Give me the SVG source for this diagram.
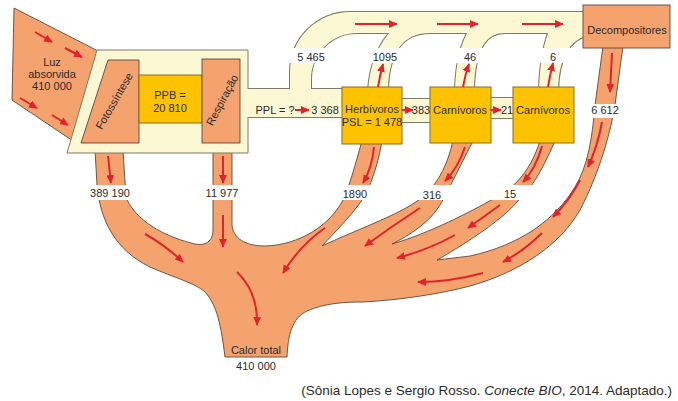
<svg xmlns="http://www.w3.org/2000/svg" width="678" height="401" viewBox="0 0 678 401">
<defs>
<marker id="ah" viewBox="0 0 10 9" refX="9" refY="4.5" markerWidth="4.4" markerHeight="4" orient="auto" markerUnits="strokeWidth">
<path d="M0,0 L10,4.5 L0,9 Z" fill="#e3232b"/>
</marker>
<style>
.t{font-family:"Liberation Sans",Arial,sans-serif;font-size:11px;fill:#2b2b2b;text-anchor:middle}
.heat{fill:#f4a36f;stroke:#5e4837;stroke-width:0.9}
.cr{fill:#fcf8d4;stroke:#7d7a68;stroke-width:2}
.crf{fill:#fcf8d4;stroke:none}
.yb{fill:#fdc300;stroke:#8a6b22;stroke-width:1}
.ar{fill:none;stroke:#e3232b;stroke-width:2;marker-end:url(#ah)}
.band{fill:#ffffff}
</style>
</defs>
<rect width="678" height="401" fill="#ffffff"/>

<g id="connectors">
<g id="luz">
<path class="heat" d="M14,8 L102,53 L76,143 L12,100 Z"/>
</g>
<path id="calor" class="heat" d="M95,150 L97,185 C100,220 115,250 150,267 C175,278 195,283 205,292 C217,305 221,325 225,357 L287,357 C288,335 292,318 307,311 C325,303 345,302 363,302 C400,300 440,294 470,286 C520,272 560,245 580,210 C600,172 611,130 615,105 L623,46 L603,46 L595,105 C592,140 588,165 575,187 C555,220 520,245 470,256 L437,260 C460,247 500,222 517,202 C530,190 540,175 555,141 L540,141 C532,165 520,185 495,198 C470,212 430,233 392,244 C410,235 430,222 440,205 C447,193 458,170 473,141 L453,141 C447,165 440,180 425,195 C405,213 360,228 322,246 C335,232 352,215 362,200 C370,188 378,165 382,141 L362,141 C355,165 350,185 343,200 C330,225 300,245 265,246 C245,246 233,238 232,225 L232,150 L213,150 L213,230 C213,242 205,246 195,244 C170,238 140,225 127,200 L125,182 L123,150 Z"/>
<g id="pipes-stroke" class="cr">
<rect x="247" y="89" width="97" height="28"/>
<rect x="400" y="99" width="32" height="23"/>
<rect x="489" y="98" width="26" height="20"/>
<path d="M290,91 L290,72 A60,60 0 0 1 350,12 L586,12 L586,33 L357,33 A46,46 0 0 0 311,79 L311,91 Z"/>
<path d="M368,90 Q371,50 394,28 L430,26 L430,33 C405,33 389,50 388,90 Z"/>
<path d="M455,90 Q456,50 470,28 L505,26 L505,33 C488,33 475,45 474,90 Z"/>
<path d="M539,90 Q540,52 550,28 L586,26 L586,36 C572,40 559,55 558,90 Z"/>
</g>
</g>

<g id="produtores">
<polygon points="97,50 248,50 248,153 67,153" fill="#fcf8d4" stroke="#7d7a68" stroke-width="1"/>
</g>

<g id="pipes-fill" class="crf">
<rect x="247" y="89" width="97" height="28"/>
<rect x="400" y="99" width="32" height="23"/>
<rect x="489" y="98" width="26" height="20"/>
<path d="M290,91 L290,72 A60,60 0 0 1 350,12 L586,12 L586,33 L357,33 A46,46 0 0 0 311,79 L311,91 Z"/>
<path d="M368,90 Q371,50 394,28 L430,26 L430,33 C405,33 389,50 388,90 Z"/>
<path d="M455,90 Q456,50 470,28 L505,26 L505,33 C488,33 475,45 474,90 Z"/>
<path d="M539,90 Q540,52 550,28 L586,26 L586,36 C572,40 559,55 558,90 Z"/>
</g>

<g id="fotossintese">
<polygon class="heat" points="108,60 139,60 139,143 81,143"/>
<text class="t" transform="translate(114,101) rotate(-60)" y="4">Fotossíntese</text>
</g>
<g id="ppb">
<rect class="yb" x="139" y="75" width="63" height="48"/>
<text class="t" x="170" y="99">PPB =</text>
<text class="t" x="170" y="112">20 810</text>
</g>
<g id="respiracao">
<rect class="heat" x="202" y="59" width="38" height="84"/>
<text class="t" transform="translate(222,100) rotate(-62)" y="4">Respiração</text>
</g>
<g id="herbivoros">
<rect class="yb" x="342" y="87" width="60" height="57"/>
<text class="t" x="372" y="113">Herbívoros</text>
<text class="t" x="372" y="126">PSL = 1 478</text>
</g>
<g id="carnivoros1">
<rect class="yb" x="430" y="87" width="61" height="56"/>
<text class="t" x="460" y="114">Carnívoros</text>
</g>
<g id="carnivoros2">
<rect class="yb" x="513" y="87" width="61" height="56"/>
<text class="t" x="543" y="114">Carnívoros</text>
</g>
<g id="decompositores">
<rect class="heat" x="583" y="5" width="87" height="43"/>
<text class="t" x="627" y="34">Decompositores</text>
</g>

<g id="label-bands" class="band">
<rect x="286" y="48" width="296" height="15"/>
<rect x="86" y="185" width="460" height="15"/>
<rect x="589" y="104" width="32" height="14"/>
</g>

<g id="labels">
<text class="t" x="52" y="66">Luz</text>
<text class="t" x="52" y="78">absorvida</text>
<text class="t" x="52" y="90">410 000</text>
<text class="t" x="275" y="114">PPL = ?</text>
<text class="t" x="325" y="114">3 368</text>
<text class="t" x="421" y="114">383</text>
<text class="t" x="507" y="114">21</text>
<text class="t" x="311" y="61">5 465</text>
<text class="t" x="385" y="61">1095</text>
<text class="t" x="470" y="61">46</text>
<text class="t" x="553" y="61">6</text>
<text class="t" x="605" y="114">6 612</text>
<text class="t" x="110" y="197">389 190</text>
<text class="t" x="222" y="197">11 977</text>
<text class="t" x="355" y="198">1890</text>
<text class="t" x="432" y="199">316</text>
<text class="t" x="510" y="198">15</text>
<text class="t" x="256" y="354">Calor total</text>
<text class="t" x="256" y="370">410 000</text>
<text x="672" y="395" style="font-family:'Liberation Sans',Arial,sans-serif;font-size:13.5px;fill:#2b2b2b;text-anchor:end">(Sônia Lopes e Sergio Rosso. <tspan font-style="italic">Conecte BIO</tspan>, 2014. Adaptado.)</text>
</g>

<g id="arrows" class="ar">
<path d="M35,32 L52,42"/>
<path d="M65,48 L82,57"/>
<path d="M20,98 L37,108"/>
<path d="M52,115 L68,125"/>
<path d="M108,156 L111,183"/>
<path d="M223,156 L223,183"/>
<path d="M223,215 L223,247"/>
<path d="M145,234 Q165,245 183,262"/>
<path d="M237,272 Q258,292 257,325"/>
<path d="M325,228 Q300,245 283,273"/>
<path d="M374,147 Q372,168 363,183"/>
<path d="M465,147 Q458,168 445,181"/>
<path d="M420,208 Q392,226 365,246"/>
<path d="M542,146 Q536,168 523,182"/>
<path d="M500,205 Q485,216 468,228"/>
<path d="M455,235 Q428,250 397,258"/>
<path d="M612,53 L610,92"/>
<path d="M602,122 Q598,145 588,167"/>
<path d="M580,180 Q570,200 553,217"/>
<path d="M542,233 Q525,250 503,262"/>
<path d="M483,273 Q450,282 418,282"/>
<path d="M295,110 L309,110"/>
<path d="M402,110 L413,110"/>
<path d="M490,110 L501,110"/>
<path d="M378,87 Q380,75 383,64"/>
<path d="M463,87 Q465,75 469,64"/>
<path d="M548,87 Q550,75 553,63"/>
<path d="M355,24 L397,24"/>
<path d="M437,24 L478,24"/>
<path d="M522,24 L563,24"/>
</g>
</svg>
